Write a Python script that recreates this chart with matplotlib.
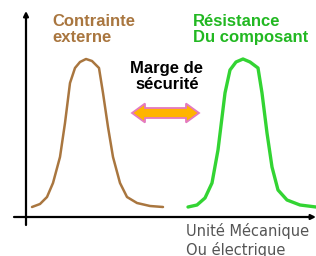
import matplotlib
matplotlib.use("Agg")
import matplotlib.pyplot as plt
import matplotlib.patches as patches

# curve samples (x: unit along the axis, y: density height)
contrainte_x = [6, 14, 21, 27, 34, 39, 44, 49, 54, 60, 66, 73, 77, 82, 87, 94, 101, 111, 124, 137]
contrainte_y = [10, 13, 20, 34, 60, 94, 134, 149, 155, 158, 156, 149, 124, 90, 60, 34, 20, 14, 11, 10]
resistance_x = [162, 171, 179, 186, 192, 199, 204, 210, 217, 224, 232, 236, 241, 246, 252, 261, 274, 290]
resistance_y = [10, 12, 19, 34, 67, 124, 147, 155, 158, 155, 149, 124, 84, 50, 27, 17, 12, 10]

label_contrainte = "Contrainte\nexterne"
label_resistance = "Résistance\nDu composant"
label_marge = "Marge de\nsécurité"
label_axe = "Unité Mécanique\nOu électrique"

brown = "#A9763F"
green = "#33D433"
green_txt = "#22B822"

fig = plt.figure(figsize=(3.16, 2.56), dpi=100)
ax = fig.add_axes([0, 0, 1, 1])
ax.set_xlim(-26, 290)
ax.set_ylim(-39, 217)
ax.axis("off")

# axes with arrow heads
ax.annotate("", xy=(0, 206), xytext=(0, -8), annotation_clip=False,
            arrowprops=dict(arrowstyle="-|>", color="black", lw=1.6,
                            mutation_scale=7, shrinkA=0, shrinkB=0))
ax.annotate("", xy=(290, 0), xytext=(-12, 0), annotation_clip=False,
            arrowprops=dict(arrowstyle="-|>", color="black", lw=1.6,
                            mutation_scale=7, shrinkA=0, shrinkB=0))

ax.plot(contrainte_x, contrainte_y, color=brown, lw=1.8, solid_capstyle="round")
ax.plot(resistance_x, resistance_y, color=green, lw=2.4, solid_capstyle="round")

# double arrow "marge"
x0, x1, yc = 106, 173, 104
hl, hw, sw = 13, 9.5, 5
arrow_pts = [(x0, yc), (x0 + hl, yc + hw), (x0 + hl, yc + sw), (x1 - hl, yc + sw),
             (x1 - hl, yc + hw), (x1, yc), (x1 - hl, yc - hw), (x1 - hl, yc - sw),
             (x0 + hl, yc - sw), (x0 + hl, yc - hw)]
ax.add_patch(patches.Polygon(arrow_pts, closed=True, facecolor="#FFB400",
                             edgecolor="#E47AC0", lw=1.3, zorder=3))

ax.text(26, 203, label_contrainte, color=brown, fontsize=12, fontweight="bold",
        family="Liberation Sans", ha="left", va="top", linespacing=1.05)
ax.text(167, 203, label_resistance, color=green_txt, fontsize=12, fontweight="bold",
        family="Liberation Sans", ha="left", va="top", linespacing=1.05)
ax.text(141, 156, label_marge, color="black", fontsize=12, fontweight="bold",
        family="Liberation Sans", ha="center", va="top", linespacing=1.1)
ax.text(160, -6, label_axe, color="#555555", fontsize=10.5,
        family="DejaVu Sans", ha="left", va="top", linespacing=1.2)

fig.savefig("out.png", dpi=100)
